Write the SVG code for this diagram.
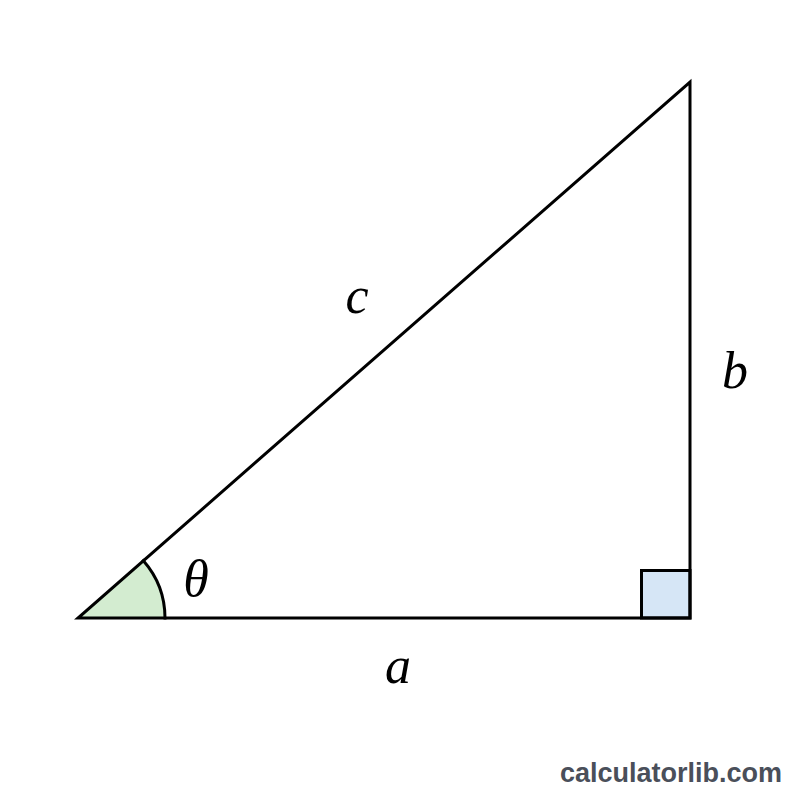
<svg xmlns="http://www.w3.org/2000/svg" width="800" height="800" viewBox="0 0 800 800">
<style>
.edge{fill:none;stroke:#000;stroke-width:3;stroke-linejoin:miter;stroke-linecap:square}
.lbl{font-family:"Liberation Serif",serif;font-style:italic;font-size:52px;fill:#000;text-anchor:middle}
.wm{font-family:"Liberation Sans",sans-serif;font-weight:bold;font-size:27px;fill:#4a4f5a;text-anchor:end}
</style>
<rect width="800" height="800" fill="#fff"/>
<g id="angle-theta">
<path d="M78,618 L165,618 A87,87 0 0 0 143.4,560.7 Z" fill="#d3ecd0" stroke="none"/>
<path d="M165,618 A87,87 0 0 0 143.4,560.7" class="edge"/>
<text class="lbl" x="196" y="596">θ</text>
</g>
<g id="right-angle">
<rect x="641.5" y="570.5" width="48.5" height="47.5" fill="#d6e6f6" stroke="#000" stroke-width="3"/>
</g>
<g id="connectors">
<path class="edge" d="M78,618 L690,618 L690,82 Z"/>
</g>
<g id="label-c"><text class="lbl" x="357" y="313">c</text></g>
<g id="label-b"><text class="lbl" x="735" y="388">b</text></g>
<g id="label-a"><text class="lbl" x="398" y="683">a</text></g>
<text class="wm" x="782" y="782">calculatorlib.com</text>
</svg>
